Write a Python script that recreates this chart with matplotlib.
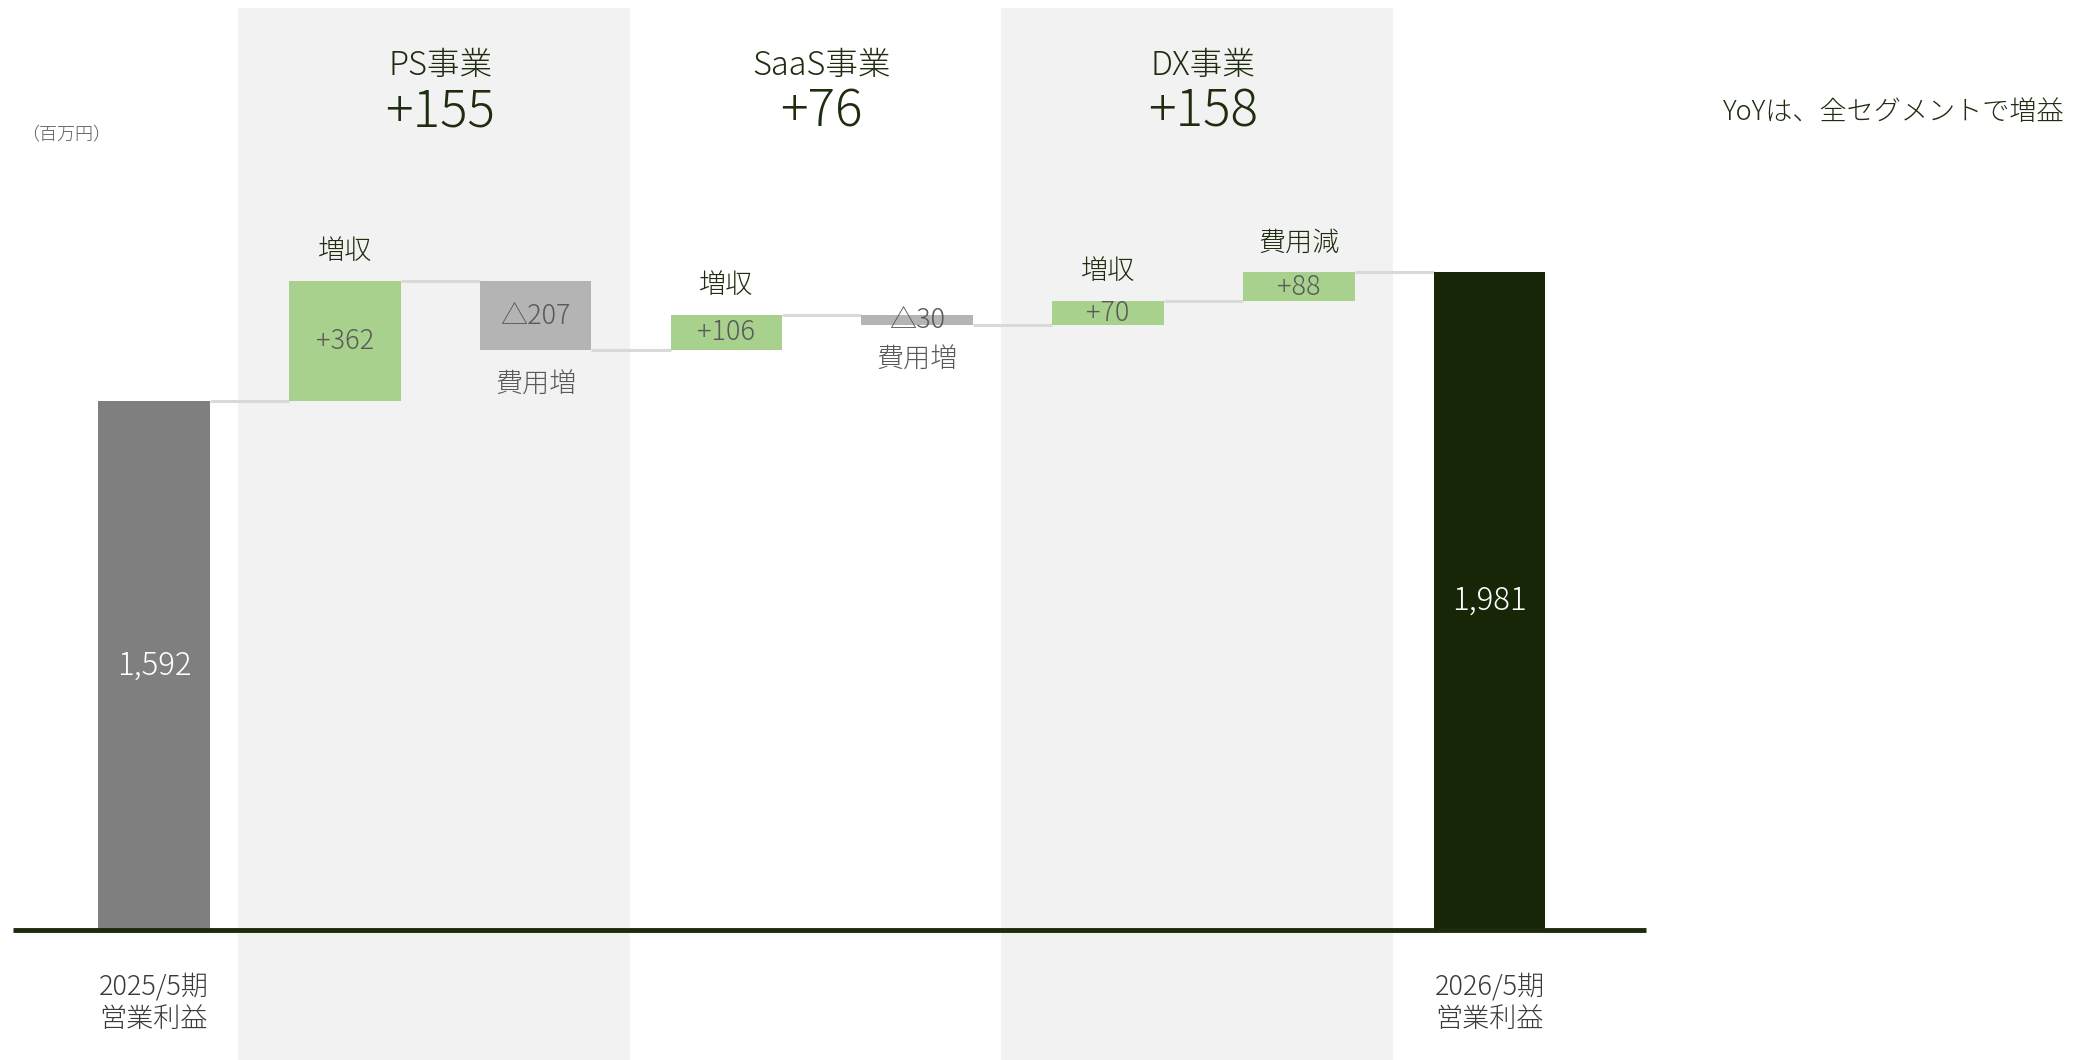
import matplotlib
matplotlib.use("Agg")
import matplotlib.pyplot as plt
import matplotlib.transforms as mtransforms
from matplotlib.patches import Rectangle
import numpy as np

plt.rcParams['font.family'] = ['Noto Sans CJK JP', 'DejaVu Sans']
plt.rcParams['font.weight'] = 'light'

# 営業利益の増減 (百万円)
start_label = "2025/5期\n営業利益"
end_label = "2026/5期\n営業利益"
start_value = 1592
end_value = 1981

step_values = [362, -207, 106, -30, 70, 88]
step_names = ["増収", "費用増", "増収", "費用増", "増収", "費用減"]

segment_names = ["PS事業", "SaaS事業", "DX事業"]
segment_steps = [[0, 1], [2, 3], [4, 5]]
segment_shaded = [True, False, True]

unit_label = "（百万円）"
note_text = "YoYは、全セグメントで増益"

# colours
c_start = "#7f7f7f"
c_end = "#182608"
c_up = "#a9d18e"
c_down = "#b4b4b4"
c_band = "#f2f2f2"
c_link = "#d9d9d9"
c_dark = "#1e2d0f"
c_gray = "#595959"

fig = plt.figure(figsize=(20.83, 10.6), dpi=100)
ax = fig.add_axes([0, 0, 1, 1])
ax.set_xlim(-0.807, 10.11)
ax.set_ylim(-392, 2801)
ax.axis("off")

n = len(step_values)
xs = np.arange(n + 2)
width = 0.585

totals = start_value + np.cumsum(step_values)
prev = np.concatenate([[start_value], totals[:-1]])

# shaded segment bands
band_tr = mtransforms.blended_transform_factory(ax.transData, ax.transAxes)
for name, steps, shaded in zip(segment_names, segment_steps, segment_shaded):
    if not shaded:
        continue
    x0 = xs[steps[0] + 1] - 0.56
    x1 = xs[steps[-1] + 1] + 0.495
    ax.add_patch(Rectangle((x0, 0), x1 - x0, 0.9925, transform=band_tr,
                           facecolor=c_band, edgecolor="none", zorder=0))

# start / end bars
ax.bar(xs[0], start_value, width=width, color=c_start, zorder=2)
ax.bar(xs[-1], end_value, width=width, color=c_end, zorder=2)

# step bars
step_colors = [c_up if v > 0 else c_down for v in step_values]
ax.bar(xs[1:-1], step_values, bottom=prev, width=width, color=step_colors, zorder=2)

# connectors
levels = np.concatenate([[start_value], totals])
for i in range(n + 1):
    ax.plot([xs[i] + width / 2, xs[i + 1] - width / 2], [levels[i], levels[i]],
            color=c_link, lw=2.2, zorder=1, solid_capstyle="butt")

# baseline
ax.plot([-0.739, 7.822], [0, 0], color="#1c2a0e", lw=3.5, zorder=3,
        solid_capstyle="butt")

# labels on the step bars
for x, v, p, name in zip(xs[1:-1], step_values, prev, step_names):
    mid = p + v / 2
    txt = f"+{v}" if v > 0 else f"△{-v}"
    ax.text(x, mid, txt, ha="center", va="center", fontsize=19.5, color=c_gray, zorder=4)
    if v > 0:
        ax.annotate(name, (x, p + v), xytext=(0, 30), textcoords="offset pixels",
                    ha="center", va="center", fontsize=19.5, color=c_dark)
    else:
        ax.annotate(name, (x, p + v), xytext=(0, -35), textcoords="offset pixels",
                    ha="center", va="center", fontsize=19.5, color=c_gray)

# start / end values and category labels
for x, v, lab in [(xs[0], start_value, start_label), (xs[-1], end_value, end_label)]:
    ax.text(x, v / 2, f"{v:,}", ha="center", va="center", fontsize=22.5,
            color="white", zorder=4)
    ax.annotate(lab, (x, 0), xytext=(0, -73), textcoords="offset pixels",
                ha="center", va="center", fontsize=19.5, color="#3a3a3a",
                linespacing=1.2)

# segment headings
for name, steps in zip(segment_names, segment_steps):
    cx = xs[[s + 1 for s in steps]].mean()
    total = sum(step_values[s] for s in steps)
    ax.text(cx, 0.938, name, transform=band_tr, ha="center", va="center",
            fontsize=23.5, color=c_dark)
    ax.text(cx, 0.894, f"+{total}", transform=band_tr, ha="center", va="center",
            fontsize=37, color=c_dark)

fig.text(66 / 2083, 1 - 135 / 1060, unit_label, ha="center", va="center",
         fontsize=13, color=c_gray)
fig.text(2065 / 2083, 1 - 112 / 1060, note_text, ha="right", va="center",
         fontsize=19.5, color=c_dark)

fig.savefig("out.png", dpi=100)
